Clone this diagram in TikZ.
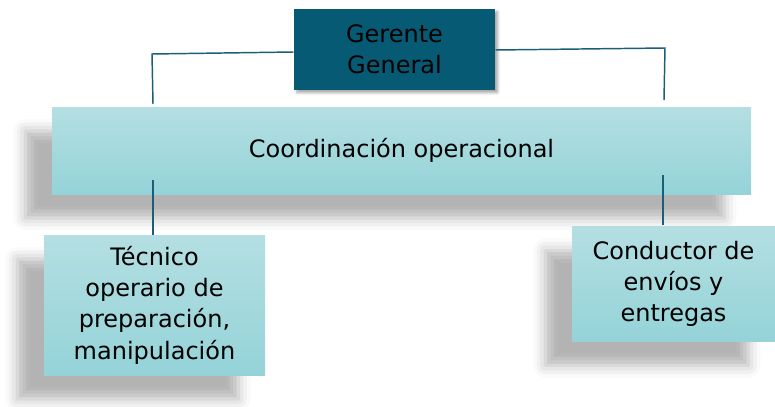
\documentclass[tikz,border=0pt]{standalone}
\usepackage{fontspec}
\setmainfont{DejaVu Sans}
\usetikzlibrary{shadows.blur}

\definecolor{gerentefill}{RGB}{7,90,115}
\definecolor{boxtop}{RGB}{180,223,226}
\definecolor{boxbottom}{RGB}{148,211,216}
\definecolor{linkline}{RGB}{28,94,120}

\tikzset{every picture/.style={line width=0.75pt}}
\tikzset{
  orgbox/.style={rectangle, inner sep=0.75pt, align=center, font=\fontsize{18}{23.5}\selectfont,
    top color=boxtop, bottom color=boxbottom, draw=none,
    blur shadow={shadow xshift=-20pt, shadow yshift=-18pt, shadow blur radius=9pt, shadow opacity=30}},
  headbox/.style={rectangle, inner sep=0.75pt, align=center, font=\fontsize{18}{23.5}\selectfont,
    fill=gerentefill, draw=none,
    blur shadow={shadow xshift=2pt, shadow yshift=-2pt, shadow blur radius=2pt, shadow opacity=35}},
  link/.style={draw=linkline, line width=1.1pt}
}

\begin{document}
\begin{tikzpicture}[x=0.75pt,y=0.75pt,yscale=-1,xscale=1]
    \useasboundingbox (0,0) rectangle (775,407);

    % Coordinates for the connector corners
    \coordinate (lcorner) at (152,54);
    \coordinate (rcorner) at (665,48);
    \coordinate (lstop) at (153,104);
    \coordinate (rstop) at (664,100);
    \coordinate (lstart) at (153,180);
    \coordinate (rstart) at (663,175);

    % Boxes
    \node [headbox, minimum width=150.75pt, minimum height=60.75pt] (gerente) at (394.5,49.5) {Gerente\\General};
    \node [orgbox, minimum width=524.25pt, minimum height=65.25pt] (coord) at (401.5,150.5) {Coordinación operacional};
    \node [orgbox, minimum width=165.75pt, minimum height=105pt] (tecnico) at (154.5,305) {Técnico\\operario de\\preparación,\\manipulación};
    \node [orgbox, minimum width=152.25pt, minimum height=86.25pt] (conductor) at (673.5,284) {Conductor de\\envíos y\\entregas};

    % Connectors
    \draw [link] (gerente.west |- 0,52) -- (lcorner) -- (lstop);
    \draw [link] (gerente.east |- 0,50) -- (rcorner) -- (rstop);
    \draw [link] (lstart) -- (lstart |- tecnico.north);
    \draw [link] (rstart) -- (rstart |- 0,225);

\end{tikzpicture}
\end{document}
